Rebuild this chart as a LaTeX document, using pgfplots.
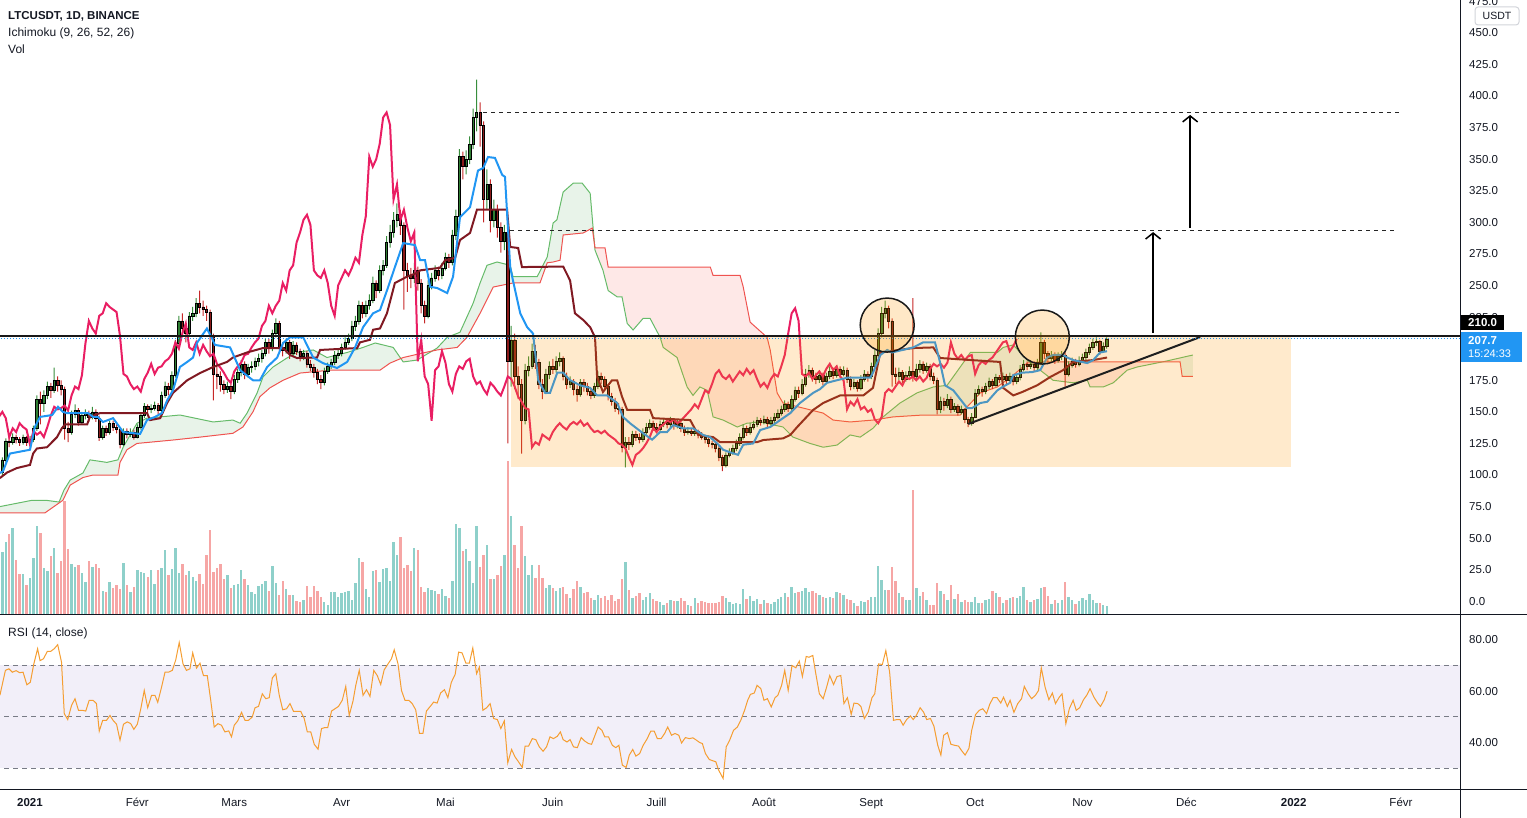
\documentclass[border=0pt]{standalone}
\usepackage{fontspec}
\setmainfont{Liberation Sans}
\usepackage{pgfplots}
\pgfplotsset{compat=1.18}
\usepackage{pgfplotstable}
\usepgfplotslibrary{fillbetween}
\usetikzlibrary{arrows.meta}

\newcommand\fs[1]{\fontsize{#1}{#1}\selectfont}

\definecolor{txt}{RGB}{19,23,34}
\definecolor{wickup}{RGB}{56,142,60}
\definecolor{wickdn}{RGB}{198,40,40}
\definecolor{bodyup}{RGB}{46,125,50}
\definecolor{bodydn}{RGB}{139,26,26}
\definecolor{volup}{RGB}{142,208,202}
\definecolor{voldn}{RGB}{246,166,165}
\definecolor{tenkan}{RGB}{33,150,243}
\definecolor{kijun}{RGB}{128,25,34}
\definecolor{chikou}{RGB}{233,30,99}
\definecolor{spana}{RGB}{102,187,106}
\definecolor{spanb}{RGB}{239,83,80}
\definecolor{cloudg}{RGB}{67,160,71}
\definecolor{cloudr}{RGB}{244,67,54}
\definecolor{zone}{RGB}{255,152,0}
\definecolor{rsiline}{RGB}{245,158,50}
\definecolor{rsiband}{RGB}{242,239,249}
\definecolor{rsidash}{RGB}{120,123,134}
\definecolor{tvblue}{RGB}{33,150,243}
\definecolor{usdtbox}{RGB}{210,212,218}

% daily candles: day (0 = 1 Jan 2021), open, high, low, close, volume (bar height)
\pgfplotstableread{
d o h l c v
-8 102 114 100 112 62
-7 112 129 110 127 72
-6 127 131 122 126 80
-5 126 133 124 130 86
-4 130 132 125 128 54
-3 128 130 123 126 40
-2 126 132 124 130 40
-1 130 131 123 126 29
0 126 131 124 128 36
1 128 139 126 137 56
2 137 163 135 160 88
3 160 166 140 157 81
4 157 167 150 163 46
5 163 174 160 170 43
6 170 173 161 167 58
7 167 185 165 175 66
8 175 178 166 171 41
9 171 175 163 168 53
10 168 170 128 137 113
11 137 142 126 134 65
12 134 151 132 148 50
13 148 156 145 151 47
14 151 153 139 142 49
15 142 150 140 147 41
16 147 152 144 149 32
17 149 151 142 146 53
18 146 154 144 150 47
19 150 152 142 145 50
20 145 147 127 130 46
21 130 139 128 137 23
22 137 139 131 134 22
23 134 143 132 141 32
24 141 143 135 138 26
25 138 140 133 136 29
26 136 138 121 124 25
27 124 137 123 135 51
28 135 137 129 132 29
29 132 137 130 134 22
30 134 136 128 130 27
31 130 140 129 138 44
32 138 149 136 147 42
33 147 157 145 154 41
34 154 156 148 152 37
35 152 156 149 153 44
36 153 158 151 155 30
37 155 157 148 151 44
38 151 166 150 163 46
39 163 174 161 170 64
40 170 173 163 168 39
41 168 182 166 179 45
42 179 207 177 204 66
43 204 226 201 222 41
44 222 228 210 216 50
45 216 219 205 212 39
46 212 229 210 226 43
47 226 233 222 228 37
48 228 240 225 236 33
49 236 246 228 233 40
50 233 238 226 231 30
51 231 234 222 229 59
52 229 231 195 210 84
53 210 212 159 180 42
54 180 186 168 178 46
55 178 182 166 172 50
56 172 175 164 168 35
57 168 174 165 170 39
58 170 172 160 166 26
59 166 179 164 176 29
60 176 184 173 181 30
61 181 191 178 188 44
62 188 190 176 180 35
63 180 188 177 185 29
64 185 190 181 186 22
65 186 193 183 190 20
66 190 196 186 192 28
67 192 199 189 196 30
68 196 208 194 205 33
69 205 208 196 200 23
70 200 215 198 212 48
71 212 224 209 220 31
72 220 222 198 201 19
73 201 205 194 199 33
74 199 208 196 205 25
75 205 207 192 196 19
76 196 206 194 203 19
77 203 205 195 198 13
78 198 200 190 194 12
79 194 199 191 196 14
80 196 198 185 188 28
81 188 191 182 185 17
82 185 188 177 181 28
83 181 184 172 176 23
84 176 179 168 173 17
85 173 185 171 182 12
86 182 189 180 186 9
87 186 192 184 189 22
88 189 198 187 195 22
89 195 200 192 196 17
90 196 204 194 201 21
91 201 209 199 205 22
92 205 212 203 208 23
93 208 222 206 218 14
94 218 226 214 222 31
95 222 238 219 234 56
96 234 237 224 228 52
97 228 238 225 234 25
98 234 243 231 238 17
99 238 257 236 252 43
100 252 254 240 246 44
101 246 266 244 262 32
102 262 270 258 266 45
103 266 289 264 284 46
104 284 298 280 292 33
105 292 308 288 302 72
106 302 315 296 306 59
107 306 310 290 298 77
108 298 300 231 262 46
109 262 268 245 258 49
110 258 264 248 256 43
111 256 268 252 262 66
112 262 265 246 252 64
113 252 255 228 234 27
114 234 238 220 226 22
115 226 254 224 250 26
116 250 260 247 256 24
117 256 266 253 262 23
118 262 265 254 258 20
119 258 268 255 264 25
120 264 276 262 272 18
121 272 275 264 268 16
122 268 294 266 290 33
123 290 310 286 305 90
124 305 358 302 352 86
125 352 356 334 344 63
126 344 357 338 350 65
127 350 368 346 362 53
128 362 390 358 383 31
129 383 413 372 387 88
130 387 395 360 377 47
131 377 380 300 318 59
132 318 342 310 330 69
133 330 334 292 302 35
134 302 318 296 310 35
135 310 314 288 296 39
136 296 300 276 285 48
137 285 298 278 292 59
138 292 294 125 190 153
139 190 218 170 207 98
140 207 212 168 178 69
141 178 186 160 172 46
142 172 176 117 143 88
143 143 188 140 183 58
144 183 194 178 186 39
145 186 204 184 198 49
146 198 203 184 189 36
147 189 192 168 172 49
148 172 176 160 166 36
149 166 184 164 180 26
150 180 190 176 186 29
151 186 192 180 184 26
152 184 194 181 190 23
153 190 197 186 192 26
154 192 194 175 178 27
155 178 181 168 172 20
156 172 178 169 174 16
157 174 176 163 168 25
158 168 171 158 164 33
159 164 176 162 173 27
160 173 176 166 170 21
161 170 173 163 166 22
162 166 169 160 163 16
163 163 173 161 170 14
164 170 182 168 178 19
165 178 181 172 176 16
166 176 178 167 170 18
167 170 172 159 162 14
168 162 165 155 158 19
169 158 161 150 153 13
170 153 157 148 152 15
171 152 154 118 122 35
172 122 130 106 126 52
173 126 130 120 124 24
174 124 135 122 132 16
175 132 135 127 130 18
176 130 133 125 128 21
177 128 137 126 134 14
178 134 141 132 138 17
179 138 144 136 141 21
180 141 143 135 138 15
181 138 141 133 136 13
182 136 143 134 140 12
183 140 145 138 142 9
184 142 144 137 140 11
185 140 146 138 143 14
186 143 145 136 139 13
187 139 144 137 141 13
188 141 143 134 137 16
189 137 139 131 134 13
190 134 138 132 135 9
191 135 137 131 133 8
192 133 138 131 135 16
193 135 136 129 132 11
194 132 134 128 130 13
195 130 132 125 128 12
196 128 130 122 125 11
197 125 127 121 124 11
198 124 126 118 121 11
199 121 123 111 114 12
200 114 116 103 108 18
201 108 118 106 116 16
202 116 121 114 118 12
203 118 124 116 121 10
204 121 128 119 125 11
205 125 133 123 130 10
206 130 140 128 137 25
207 137 139 131 134 15
208 134 141 132 138 18
209 138 143 136 140 13
210 140 146 138 143 15
211 143 145 139 142 10
212 142 147 140 144 14
213 144 146 138 141 11
214 141 146 139 143 10
215 143 149 141 146 12
216 146 152 144 149 15
217 149 155 147 152 17
218 152 159 150 156 21
219 156 158 150 153 17
220 153 163 151 160 27
221 160 170 158 167 21
222 167 170 161 165 22
223 165 176 163 172 23
224 172 184 170 180 26
225 180 187 177 183 22
226 183 185 174 178 23
227 178 181 172 176 21
228 176 183 173 179 19
229 179 181 171 174 17
230 174 181 172 178 16
231 178 186 176 182 17
232 182 185 176 179 16
233 179 187 177 184 22
234 184 186 177 180 21
235 180 186 178 183 19
236 183 185 173 176 15
237 176 178 167 170 14
238 170 176 168 173 11
239 173 175 166 169 8
240 169 179 167 176 13
241 176 183 174 180 12
242 180 182 174 178 14
243 178 189 176 186 17
244 186 199 184 195 17
245 195 216 193 212 48
246 212 233 209 228 34
247 228 238 224 232 24
248 232 234 216 222 24
249 222 224 170 180 47
250 180 185 172 178 33
251 178 185 175 181 21
252 181 183 173 176 17
253 176 182 174 179 14
254 179 186 177 182 14
255 182 240 174 178 124
256 178 188 176 184 26
257 184 191 181 188 18
258 188 190 180 183 22
259 183 189 181 186 14
260 186 188 175 178 9
261 178 181 172 175 9
262 175 177 148 152 31
263 152 162 149 158 23
264 158 161 151 155 20
265 155 164 153 160 14
266 160 162 149 152 29
267 152 157 150 154 15
268 154 156 147 150 20
269 150 155 148 152 12
270 152 153 141 144 14
271 144 146 138 141 12
272 141 149 139 146 12
273 146 168 145 165 17
274 165 171 163 168 11
275 168 170 162 166 11
276 166 173 164 170 14
277 170 177 168 174 15
278 174 176 168 171 23
279 171 180 170 177 21
280 177 179 173 176 17
281 176 181 174 178 11
282 178 180 172 175 14
283 175 181 173 178 16
284 178 180 171 174 17
285 174 180 172 177 16
286 177 187 175 184 18
287 184 191 182 188 27
288 188 190 183 186 14
289 186 191 184 188 12
290 188 190 182 185 14
291 185 192 183 189 15
292 189 213 187 205 26
293 205 207 192 196 27
294 196 198 189 192 18
295 192 198 190 195 10
296 195 197 188 191 14
297 191 197 189 194 11
298 194 198 191 195 14
299 195 197 170 180 32
300 180 190 178 187 17
301 187 193 185 190 14
302 190 192 185 188 10
303 188 194 186 191 13
304 191 196 189 193 16
305 193 200 191 197 14
306 197 204 195 201 20
307 201 208 199 205 14
308 205 209 202 206 11
309 206 207 195 198 11
310 198 205 197 202 9
311 202 209 200 207.7 8
}\candles

\pgfplotstableread{
d y
-8.7 101.6
-7.8 103
-5.8 117
0 120
1.4 138
2.9 146
6.4 147.5
8.1 154
9.5 150
10.7 149
16.8 149
18.2 146
19.6 146
21.1 142
24.0 145
26.9 134
31.8 132.5
33.8 143.5
36.1 146
38.1 149
39.6 159
41.3 167
43.3 185.5
45.4 189.5
47.1 193
48.2 204.5
51.1 216
52.6 208
53.4 203
57.8 201
60.7 183
64.4 175
66.4 175
68.5 185.5
71.4 193
73.1 204.5
75.1 209
78.9 209
81.8 193
84.6 188.6
88.7 184.7
91.6 189.5
93.9 201
96.2 217
99.1 228
101.1 230.6
103.1 246
105.4 264.6
107.8 283.6
111.2 282
112.7 270
114.1 270
115.6 249
117.6 248
120.5 244
122.2 257
124.2 304
127.1 312
129.4 341
130.9 343
132.3 351.7
134.3 351
136.4 337.5
137.2 336
138.7 264.6
139.5 254
141.6 228
143.6 217
145.3 212
146.8 175
148.8 165
150.2 165
152.3 181
154.0 181
156.0 175
158.9 171
161.8 169
163.8 163
166.7 163
169.6 157
171.3 146
173.3 141
177.1 133
179.7 128
182.0 134
184.0 134
185.8 139.6
188.6 137
191.5 137
194.4 131.7
196.4 130
198.5 125
200.2 120
202.2 118
204.5 116
206.0 124
208.9 125
210.9 135.6
213.8 138
216.7 143.5
219.6 149
222.4 157
226.2 165
228.2 168
230.2 173
233.1 175
236.0 177
242.7 177
243.5 181
245.6 195
247.6 199
249.0 197
255.1 201
258.0 205
261.4 205
262.9 188.6
264.3 171
266.7 167
270.7 153
272.1 153
274.5 157
276.5 158
279.4 167
281.1 170
283.1 173
284.0 179
286.6 181
289.5 181.5
291.8 183
293.8 193
295.5 195
298.4 195
299.6 193
301.3 191
305.4 188.6
307.1 191
309.1 197
311.1 198
}\tabTen

\pgfplotstableread{
d y
-8.7 97.6
-6.6 102
-3.8 105.5
0 108
0.9 117
2.0 121
4.9 122
7.8 130
9.2 137
10.1 140
16.5 140
17.3 146
20.2 149
33.8 149
34.7 143.5
37.6 145
39.6 157
41.3 165
45.4 175
49.1 180.7
52.9 185.5
56.9 189.5
58.6 193
62.7 197
67.3 200.5
73.1 200.5
75.1 195
77.1 192.6
82.9 193
83.8 199
94.5 200.5
95.3 205
98.2 207
99.1 215
101.1 216
103.1 228
105.4 252
108.9 257
111.8 260
112.7 262
118.4 264
119.9 270
122.8 272
124.2 286
127.1 291.6
129.1 310
137.8 310
138.7 280.5
141.0 279.7
142.1 264.6
154.0 265
156.0 254
157.4 228
159.8 222.7
161.8 217
163.2 209
163.8 177.6
165.5 165.7
168.1 175
169.6 175
171.0 162
172.5 151.5
179.1 151.5
180.0 145
190.7 143.5
193.0 131.7
197.3 130
199.3 126
210.0 126
211.8 127.7
217.5 129
219.6 131.7
221.6 138
226.2 151.5
229.1 157
234.0 163
240.7 163
243.5 169
245.6 197
255.1 200.5
260.9 201
262.9 192.6
280.2 189.5
281.1 169
284.0 163
286.6 165.7
290.9 171
294.7 177.6
298.4 183
301.3 189.5
307.1 191
311.1 193
}\tabKij

\pgfplotstableread{
d y
-8.7 75
0.6 80
4.6 80
8.4 78.6
9.8 88
11.6 96
15.3 101.6
17.3 112
22.2 110
25.4 112
26.9 122
30.9 141
33.8 145
43.3 147.5
52.9 142
58.6 143.5
60.7 141
62.7 149
65.6 165
67.3 177.6
70.2 185.5
74.2 192.6
77.1 197
81.8 199
85.8 193
91.6 197
96.2 201
99.7 204.5
104.9 201
107.8 189.5
111.8 191
117.6 200.5
120.5 209
124.2 213
128.0 236
130.0 252
132.0 266
134.9 268.6
138.7 266
139.5 257
146.5 257
149.4 272.6
151.1 299.5
152.2 302
154.0 324
156.9 331
159.5 331
161.8 323
163.2 278
165.5 262
167.0 246
169.6 241
171.0 241
172.5 220
174.2 214.8
177.1 224
179.1 224
182.0 209
182.9 201
186.9 193
189.8 169.7
191.5 163
193.5 169.7
195.6 167
197.3 146
200.2 143.5
204.3 138
207.1 141
210.9 142
217.5 138
220.4 130
225.3 125
229.1 122
233.1 123.7
236.9 131.7
239.8 130
243.5 137
246.4 146
251.3 157
256.2 165
260.9 169.7
264.9 171
269.5 188.6
271.6 197
279.4 197
281.1 201
284.0 203
288.0 191
291.8 183
295.5 175
301.3 173
305.4 175
306.2 169.7
310.0 169.7
312.9 173
316.9 183
319.8 185.5
327.9 190
335.9 195
}\tabA

\pgfplotstableread{
d y
-8.7 70
4.3 70
9.5 80
11.6 92
15.3 98
18.2 100
25.4 100
26.0 110
28.0 120
30.9 125
41.3 127.7
49.1 130
58.6 133
61.5 138
64.4 150
66.4 162
69.3 169
73.1 175
78.0 180.7
86.7 183
101.1 183
104.0 188.6
107.8 193
113.5 196.6
117.6 199
123.4 201
126.2 209
130.0 228
133.8 248.8
139.5 252
147.3 252
149.4 268
151.1 268.6
153.1 270
154.0 290
159.8 291.6
162.4 295.5
163.2 279.7
166.1 279.7
167.0 264.6
196.5 264.6
197.3 258
205.1 258
206.0 249
208.0 221
212.9 209
213.8 199
215.8 165
217.5 157
229.1 149
232.0 143.5
236.9 142
243.5 143.5
249.3 146
258.0 147.5
268.7 147.5
270.7 154
274.5 165
279.4 169.7
284.0 179
288.0 188.6
291.8 189.5
332.2 189.5
332.8 178
335.9 178
}\tabB

\pgfplotstableread{
d r
-8.7 58.4
-7.1 68.1
-6.1 68.7
-5.1 67.4
-4.0 68.0
-3.0 67.2
-2.0 67.4
-0.9 62.5
0.1 63.5
1.1 70.6
2.2 76.5
2.9 71.9
3.9 72.6
5.0 75.5
6.0 75.5
7.0 76.5
8.0 78.1
9.1 71.3
9.9 51.3
10.9 49.0
12.0 54.5
13.0 57.1
14.0 52.6
15.1 52.6
16.1 52.3
17.1 56.5
18.2 56.5
19.2 55.2
20.0 44.5
21.0 48.7
22.1 48.7
23.1 50.6
24.0 48.7
25.0 47.2
26.0 41.0
27.0 47.2
28.1 48.1
29.1 47.4
30.0 45.2
31.0 47.2
32.0 53.2
33.0 60.3
34.0 53.6
35.1 58.4
36.1 58.4
36.9 55.7
38.0 61.6
39.0 67.4
40.0 67.4
41.1 68.1
42.1 72.2
43.1 78.9
44.2 70.6
45.2 68.1
46.2 68.7
47.0 74.9
48.1 69.0
49.1 70.9
50.1 66.1
51.2 66.1
52.2 56.5
53.2 46.1
54.3 47.4
55.3 46.8
56.3 44.2
57.4 44.6
58.2 42.3
59.0 46.8
60.0 48.5
61.1 51.8
62.1 48.7
63.1 48.7
64.2 50.0
65.0 53.6
66.0 54.1
67.1 59.0
68.1 57.1
69.1 57.5
70.0 65.2
71.0 66.8
72.0 58.4
73.0 52.8
74.1 53.2
75.1 55.2
76.1 52.2
77.2 52.2
78.2 52.2
79.2 49.4
80.1 44.2
81.1 44.2
82.1 39.4
83.2 37.5
84.2 45.5
85.2 45.9
86.0 45.9
87.1 52.3
88.1 53.2
89.1 54.1
90.2 56.5
91.2 61.9
92.2 50.6
93.3 56.2
94.1 62.3
95.1 68.1
96.2 58.4
97.2 60.6
98.2 58.0
99.3 68.1
100.3 66.1
101.3 62.6
102.3 68.3
103.4 70.6
104.4 72.6
105.2 76.1
106.3 70.6
107.3 60.3
108.3 56.5
109.4 56.5
110.4 55.2
111.4 52.8
112.5 43.6
113.5 43.6
114.5 52.3
115.6 54.1
116.6 55.8
117.6 55.4
118.6 59.3
119.7 60.6
120.7 57.5
121.7 63.5
122.8 66.5
123.8 75.2
124.8 74.9
125.9 70.9
126.9 70.9
127.9 76.8
129.0 66.8
129.8 69.4
130.8 52.6
131.9 53.6
132.9 55.2
133.9 49.4
135.0 49.0
136.0 45.5
137.0 48.5
138.0 32.2
139.1 37.4
140.1 34.5
141.1 32.6
142.2 30.4
143.0 38.7
144.0 38.7
145.1 41.6
146.1 41.2
147.1 38.4
148.2 36.7
149.2 38.4
150.2 42.3
151.2 41.6
152.3 42.5
153.2 44.2
154.0 41.2
155.1 40.3
156.0 41.2
157.0 38.4
158.1 38.1
159.2 42.0
160.2 40.7
161.3 39.7
162.2 39.4
163.2 42.9
164.1 46.1
165.2 44.8
166.0 42.3
167.1 42.3
168.2 39.0
169.2 38.1
170.1 39.0
171.1 31.3
172.2 30.4
173.1 35.2
174.1 37.4
175.0 34.8
176.1 35.8
177.1 39.0
178.2 41.4
179.3 44.5
180.3 44.5
181.2 41.6
182.3 41.6
183.3 43.6
184.2 46.1
185.3 42.9
186.3 43.6
187.4 42.9
188.2 39.9
189.3 42.0
190.4 41.6
191.5 41.9
192.5 41.0
193.4 40.1
194.2 39.7
195.1 35.8
196.2 33.5
197.2 33.0
198.1 32.6
198.9 29.4
200.2 26.1
201.1 38.4
202.1 41.0
203.2 44.8
204.3 46.1
205.3 48.7
206.4 52.6
207.3 56.5
208.1 58.8
209.2 59.3
210.0 62.3
211.1 61.0
212.0 56.5
213.0 57.1
214.1 53.9
215.2 57.5
216.0 58.4
217.1 62.3
218.0 68.1
219.0 60.3
220.1 70.0
221.2 69.1
222.2 71.7
223.1 65.7
224.2 73.5
225.0 73.2
226.1 73.9
226.9 67.4
228.0 59.0
229.1 57.1
230.1 61.6
231.0 66.1
232.1 62.6
233.1 65.7
234.2 66.1
235.1 55.2
236.1 57.5
237.2 51.0
238.0 55.4
239.1 55.2
240.0 54.1
241.0 49.4
242.1 51.9
243.2 57.5
244.0 59.0
245.1 70.6
246.2 70.4
247.2 75.8
248.3 67.4
249.4 48.7
250.4 49.0
251.3 49.0
252.2 46.8
253.2 49.0
254.3 50.4
255.1 49.0
256.0 50.6
257.1 53.6
258.1 51.9
259.0 49.0
260.1 49.4
261.1 46.4
262.2 39.0
263.1 35.2
263.9 42.9
265.0 43.9
266.0 39.4
267.1 39.0
268.2 38.7
269.0 37.1
270.1 35.2
271.2 37.8
272.0 44.8
273.1 50.9
274.2 52.6
275.2 53.2
276.3 51.3
277.2 54.9
278.2 57.5
279.3 57.5
280.4 55.4
281.2 57.7
282.3 54.1
283.1 56.5
284.2 51.8
285.3 55.2
286.4 57.1
287.2 61.9
288.3 59.0
289.3 57.1
290.4 58.4
291.3 60.3
292.1 69.1
293.2 61.6
294.3 56.7
295.3 59.3
296.2 55.2
297.3 57.7
298.1 59.0
299.2 47.4
300.2 53.2
301.3 56.5
302.2 52.6
303.2 53.6
304.3 56.7
305.2 58.4
306.2 61.0
307.3 57.7
308.4 55.4
309.2 54.1
310.3 56.7
311.1 60.0
}\tabRsi

\pgfplotsset{
  pane/.style={scale only axis, width=1460pt, anchor=south west,
    xmin=-8.666, xmax=413.05, axis line style={draw=none},
    tick style={draw=none}, major tick length=0pt, xtick=\empty},
  price/.style={pane, at={(0pt,204pt)}, height=614pt, ymin=-10, ymax=476},
  scalelabels/.style={yticklabel pos=right,
    yticklabel style={font=\fs{11.5}, text=txt, anchor=west, inner sep=0pt, xshift=9pt,
      /pgf/number format/fixed, /pgf/number format/fixed zerofill,
      /pgf/number format/precision=#1, /pgf/number format/assume math mode=true}},
}

\begin{document}
\begin{tikzpicture}

% ichimoku cloud, under the candles
\begin{axis}[price, ytick=\empty]
\addplot[spana, line width=1pt, name path=A] table[x=d, y=y] {\tabA};
\addplot[spanb, line width=1pt, name path=B] table[x=d, y=y] {\tabB};
\addplot[fill=cloudg, fill opacity=0.12, draw=none] fill between[of=A and B, soft clip={domain=-9:106.5}];
\addplot[fill=cloudr, fill opacity=0.12, draw=none] fill between[of=A and B, soft clip={domain=106.5:117}];
\addplot[fill=cloudg, fill opacity=0.12, draw=none] fill between[of=A and B, soft clip={domain=117:163.1}];
\addplot[fill=cloudr, fill opacity=0.12, draw=none] fill between[of=A and B, soft clip={domain=163.1:245.8}];
\addplot[fill=cloudg, fill opacity=0.12, draw=none] fill between[of=A and B, soft clip={domain=245.8:289}];
\addplot[fill=cloudr, fill opacity=0.12, draw=none] fill between[of=A and B, soft clip={domain=289:332.2}];
\addplot[fill=cloudg, fill opacity=0.12, draw=none] fill between[of=A and B, soft clip={domain=332.2:337}];
\end{axis}

% wicks: an invisible bar up to the low, then the high-low range
\begin{axis}[price, ytick=\empty, ybar stacked, bar width=1pt]
\addplot[draw=none, fill=none] table[x=d, y=l] {\candles};
\addplot[draw=none, fill=wickup] table[x=d, y expr={\thisrow{c}>=\thisrow{o} ? \thisrow{h}-\thisrow{l} : 0}] {\candles};
\addplot[draw=none, fill=wickdn] table[x=d, y expr={\thisrow{c}<\thisrow{o} ? \thisrow{h}-\thisrow{l} : 0}] {\candles};
\end{axis}

% bodies: an invisible bar up to min(open, close), then the body
\begin{axis}[price, ytick=\empty, ybar stacked, bar width=2.3pt]
\addplot[draw=none, fill=none] table[x=d, y expr={min(\thisrow{o},\thisrow{c})}] {\candles};
\addplot[draw=black, line width=0.6pt, fill=bodyup] table[x=d, y expr={\thisrow{c}>=\thisrow{o} ? \thisrow{c}-\thisrow{o} : 0}] {\candles};
\addplot[draw=black, line width=0.6pt, fill=bodydn] table[x=d, y expr={\thisrow{c}<\thisrow{o} ? \thisrow{o}-\thisrow{c} : 0}] {\candles};
\end{axis}

% volume
\begin{axis}[pane, at={(0pt,204pt)}, height=614pt, ymin=0, ymax=614, ytick=\empty]
\addplot[ycomb, draw=volup, line width=2.4pt, restrict y to domain=-500:1000]
  table[x=d, y expr={\thisrow{c}>=\thisrow{o} ? \thisrow{v} : -1000}] {\candles};
\addplot[ycomb, draw=voldn, line width=2.4pt, restrict y to domain=-500:1000]
  table[x=d, y expr={\thisrow{c}<\thisrow{o} ? \thisrow{v} : -1000}] {\candles};
\end{axis}

% price pane: ichimoku lines, drawings, price scale
\begin{axis}[price, ytick={0,25,...,475}, scaled y ticks=false, scalelabels=1]
% lagging span: the close moved back 26 days
\addplot[chikou, line width=2pt] table[x expr=\thisrow{d}-26, y=c] {\candles};
\addplot[kijun, line width=2pt] table[x=d, y=y] {\tabKij};
\addplot[tenkan, line width=2pt] table[x=d, y=y] {\tabTen};

\fill[zone, fill opacity=0.2] (axis cs:138.96,210) rectangle (axis cs:364.3,106.3);
\draw[black!85, line width=1pt, dash pattern=on 4pt off 4pt] (axis cs:130.9,387.3) -- (axis cs:395.8,387.3);
\draw[black!85, line width=1pt, dash pattern=on 4pt off 4pt] (axis cs:138.7,293.9) -- (axis cs:394.3,293.9);
\draw[black, line width=1.5pt, -{Straight Barb[length=6pt, width=15pt]}] (axis cs:324.4,212.4) -- (axis cs:324.4,292.3);
\draw[black, line width=1.5pt, -{Straight Barb[length=6pt, width=15pt]}] (axis cs:335.1,295.5) -- (axis cs:335.1,385);
\draw[black!88, line width=2pt] (axis cs:271.0,140.4) -- (axis cs:338.0,209.2);
\draw[black!90, line width=2pt] (axis cs:-10,210) -- (axis cs:420,210);
\draw[tvblue, line width=1pt, dash pattern=on 1pt off 2pt] (axis cs:-10,207.7) -- (axis cs:420,207.7);
\filldraw[fill=zone, fill opacity=0.22, draw=black!90, line width=1.5pt] (axis cs:247.6,218.7) circle[radius=27pt];
\filldraw[fill=zone, fill opacity=0.22, draw=black!90, line width=1.5pt] (axis cs:292.4,209.2) circle[radius=27pt];
\end{axis}

% RSI pane
\begin{axis}[pane, at={(0pt,28pt)}, height=175pt, ymin=21.65, ymax=89.61,
  ytick={40,60,80}, scalelabels=2,
  xtick={0,31,59,90,120,151,181,212,243,273,304,334,365,396},
  xticklabels={\textbf{2021},Févr,Mars,Avr,Mai,Juin,Juill,Août,Sept,Oct,Nov,Déc,\textbf{2022},Févr},
  xticklabel style={font=\fs{11.5}, text=txt, anchor=base, yshift=-17pt}]
\fill[rsiband] (axis cs:-10,30) rectangle (axis cs:420,70);
\draw[rsidash, line width=1pt, dash pattern=on 5pt off 4pt] (axis cs:-10,70) -- (axis cs:420,70);
\draw[rsidash, line width=1pt, dash pattern=on 5pt off 4pt] (axis cs:-10,50) -- (axis cs:420,50);
\draw[rsidash, line width=1pt, dash pattern=on 5pt off 4pt] (axis cs:-10,30) -- (axis cs:420,30);
\addplot[rsiline, line width=1pt] table[x=d, y=r] {\tabRsi};
\end{axis}

% pane borders and price scale boxes
\draw[txt, line width=1pt] (0pt,203.5pt) -- (1527pt,203.5pt);
\draw[txt, line width=1pt] (0pt,28pt) -- (1527pt,28pt);
\draw[txt, line width=1pt] (1460.5pt,0pt) -- (1460.5pt,818pt);

\fill[black] (1461pt,488pt) rectangle (1504pt,503pt);
\node[anchor=west, inner sep=0pt, text=white, font=\bfseries\fs{11.5}] at (1468pt,495.5pt) {210.0};
\fill[tvblue] (1461pt,456pt) rectangle (1522pt,486pt);
\node[anchor=west, inner sep=0pt, text=white, font=\bfseries\fs{11.5}] at (1468pt,477pt) {207.7};
\node[anchor=west, inner sep=0pt, text=white, font=\fs{11}] at (1468pt,464pt) {15:24:33};
\filldraw[fill=white, draw=usdtbox, line width=1pt, rounded corners=3pt] (1475pt,793pt) rectangle (1519pt,811pt);
\node[inner sep=0pt, text=txt, font=\fs{10.5}] at (1497pt,802pt) {USDT};

\node[anchor=base west, inner sep=0pt, text=txt, font=\bfseries\fs{11.5}] at (8pt,798pt) {LTCUSDT, 1D, BINANCE};
\node[anchor=base west, inner sep=0pt, text=txt, font=\fs{12}] at (8pt,781pt) {Ichimoku (9, 26, 52, 26)};
\node[anchor=base west, inner sep=0pt, text=txt, font=\fs{12}] at (8pt,764pt) {Vol};
\node[anchor=base west, inner sep=0pt, text=txt, font=\fs{12}] at (8pt,181pt) {RSI (14, close)};

\pgfresetboundingbox
\path[use as bounding box] (0pt,0pt) rectangle (1527pt,818pt);
\end{tikzpicture}
\end{document}
